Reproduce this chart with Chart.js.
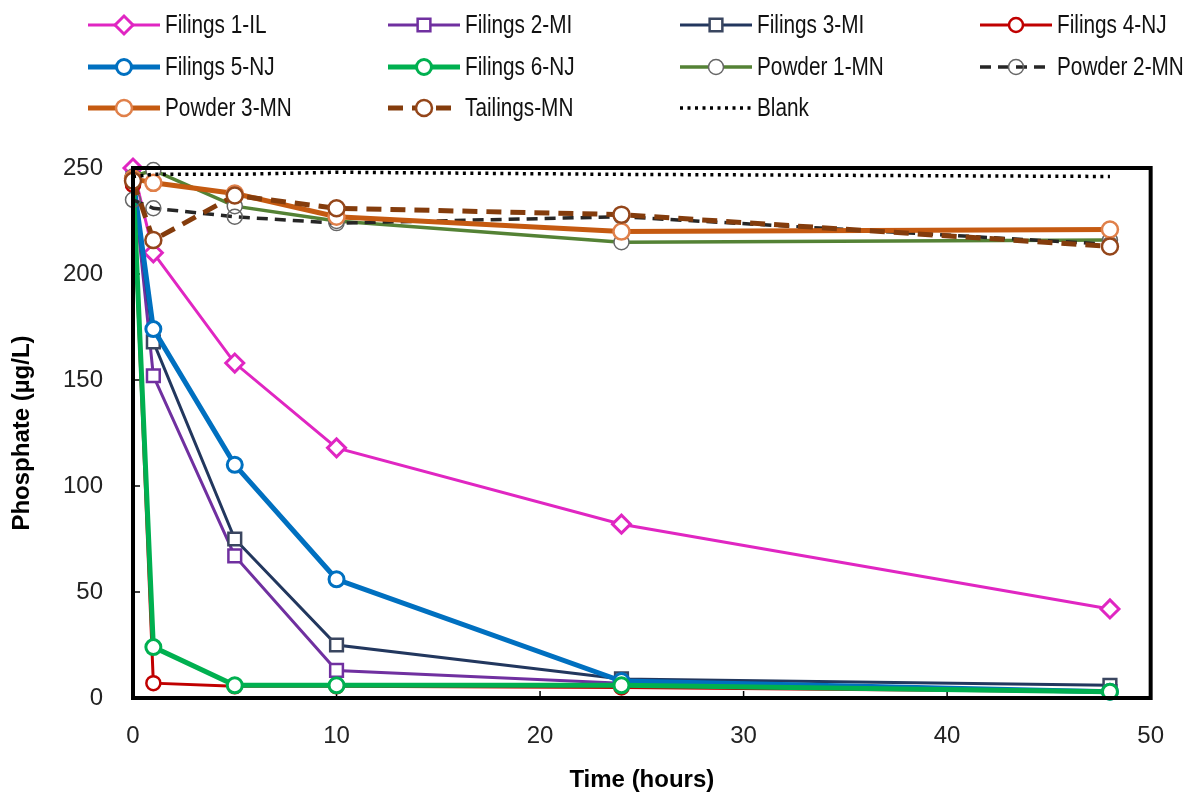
<!DOCTYPE html>
<html>
<head>
<meta charset="utf-8">
<script src="https://cdn.jsdelivr.net/npm/chart.js@4.4.1/dist/chart.umd.min.js"></script>
<style>
html,body{margin:0;padding:0;background:#fff;}
#wrap{width:1188px;height:797px;position:relative;}
</style>
</head>
<body>
<div id="wrap"><canvas id="c" width="1188" height="797"></canvas></div>
<script>
// ---- data ----
const times = [0, 1, 5, 10, 24, 48];
const filings1IL = [250, 210, 158, 118, 82, 42];
const filings2MI = [245, 152, 67, 13, 7, 3];
const filings3MI = [244, 168, 75, 25, 9, 6];
const filings4NJ = [242, 7, 5.5, 5.5, 5, 3];
const filings5NJ = [245, 174, 110, 56, 8, 3];
const filings6NJ = [245, 24, 6, 6, 6, 3];
const powder1MN = [246, 249, 232, 225, 215, 216];
const powder2MN = [235, 231, 227, 224, 227, 214];
const powder3MN = [245, 243, 238, 227, 220, 221];
const tailingsMN = [244, 216, 237, 231, 228, 213];
const blank = [246, 247, 247, 248, 247, 246];
const seriesNames = ['Filings 1-IL','Filings 2-MI','Filings 3-MI','Filings 4-NJ','Filings 5-NJ','Filings 6-NJ','Powder 1-MN','Powder 2-MN','Powder 3-MN','Tailings-MN','Blank'];
const xTicks = [0, 10, 20, 30, 40, 50];
const yTicks = [0, 50, 100, 150, 200, 250];

const FONT = '"Liberation Sans", Arial, sans-serif';
const toXY = arr => arr.map((v, i) => ({x: times[i], y: v}));

const styles = [
  {c:'#E026C2', w:3,   ps:'rectRot', r:9,  pc:'#E026C2', pw:3},
  {c:'#7030A0', w:3,   ps:'rect',    r:9,  pc:'#7030A0', pw:2.5},
  {c:'#22375E', w:3,   ps:'rect',    r:9,  pc:'#3A4660', pw:2.5},
  {c:'#C00000', w:3,   ps:'circle',  r:7,  pc:'#C00000', pw:2.5},
  {c:'#0070C0', w:5,   ps:'circle',  r:7.5,pc:'#0070C0', pw:3},
  {c:'#00B050', w:5,   ps:'circle',  r:7.5,pc:'#00B050', pw:3},
  {c:'#548235', w:3.5, ps:'circle',  r:7.5,pc:'#666666', pw:1.5},
  {c:'#262626', w:3.5, ps:'circle',  r:7.5,pc:'#666666', pw:1.5, dash:[11,7], fill:'rgba(0,0,0,0)'},
  {c:'#C55A11', w:5,   ps:'circle',  r:8,  pc:'#E0804A', pw:2.5},
  {c:'#843C0C', w:5,   ps:'circle',  r:8,  pc:'#94461A', pw:2.5, dash:[15,9]},
  {c:'#000000', w:3.5, ps:'circle',  r:0,  pc:'#000', pw:0, dash:[3,4.5]}
];
const values = [filings1IL, filings2MI, filings3MI, filings4NJ, filings5NJ, filings6NJ, powder1MN, powder2MN, powder3MN, tailingsMN, blank];

const datasets = values.map((v, i) => {
  const s = styles[i];
  return {
    label: seriesNames[i],
    data: toXY(v),
    borderColor: s.c,
    borderWidth: s.w,
    borderDash: s.dash || [],
    borderCapStyle: 'butt',
    pointStyle: s.ps,
    pointRadius: s.r,
    pointBorderColor: s.pc,
    pointBorderWidth: s.pw,
    pointBackgroundColor: s.fill || '#ffffff',
    pointHoverRadius: s.r,
    tension: 0,
    fill: false,
    clip: false,
    order: values.length - i
  };
});

// legend, frame, inward ticks
const legendCols = [88, 388, 680, 980];
const legendRows = [25, 67, 108];
const customPlugin = {
  id: 'custom',
  beforeDatasetsDraw(chart) {
    const {ctx, chartArea: a} = chart;
    ctx.save();
    ctx.strokeStyle = '#000';
    ctx.lineWidth = 1.5;
    const xs = chart.scales.x, ys = chart.scales.y;
    xTicks.forEach(t => {
      const px = xs.getPixelForValue(t);
      ctx.beginPath(); ctx.moveTo(px, a.bottom); ctx.lineTo(px, a.bottom - 7); ctx.stroke();
    });
    yTicks.forEach(t => {
      const py = ys.getPixelForValue(t);
      ctx.beginPath(); ctx.moveTo(a.left, py); ctx.lineTo(a.left + 7, py); ctx.stroke();
    });
    ctx.restore();
  },
  afterDraw(chart) {
    const {ctx, chartArea: a} = chart;
    ctx.save();
    ctx.strokeStyle = '#000';
    ctx.lineWidth = 4;
    ctx.strokeRect(a.left, a.top, a.right - a.left, a.bottom - a.top);
    // legend
    chart.data.datasets.forEach((ds, i) => {
      const col = i % 4, row = Math.floor(i / 4);
      const x0 = legendCols[col], y = legendRows[row];
      const len = 72;
      ctx.save();
      ctx.strokeStyle = ds.borderColor;
      ctx.lineWidth = ds.borderWidth;
      ctx.setLineDash(ds.borderDash);
      ctx.lineCap = 'butt';
      ctx.beginPath(); ctx.moveTo(x0, y); ctx.lineTo(x0 + len, y); ctx.stroke();
      ctx.setLineDash([]);
      if (ds.pointRadius > 0) {
        ctx.fillStyle = ds.pointBackgroundColor;
        ctx.strokeStyle = ds.pointBorderColor;
        ctx.lineWidth = ds.pointBorderWidth;
        Chart.helpers.drawPoint(ctx, {pointStyle: ds.pointStyle, radius: ds.pointRadius, borderWidth: ds.pointBorderWidth, rotation: 0}, x0 + len / 2, y);
      }
      ctx.fillStyle = '#111';
      ctx.font = '25px ' + FONT;
      ctx.textBaseline = 'middle';
      ctx.textAlign = 'left';
      ctx.translate(x0 + len + 5, y + 1);
      ctx.scale(0.83, 1);
      ctx.fillText(ds.label, 0, 0);
      ctx.restore();
    });
    ctx.restore();
  }
};

new Chart(document.getElementById('c'), {
  type: 'line',
  data: {datasets},
  options: {
    responsive: false,
    animation: false,
    events: [],
    layout: {padding: {top: 168, right: 35, bottom: 0, left: 0}},
    plugins: {legend: {display: false}, tooltip: {enabled: false}},
    scales: {
      x: {
        type: 'linear', min: 0, max: 50,
        afterBuildTicks: s => { s.ticks = xTicks.map(v => ({value: v})); },
        afterFit: s => { s.height = 99; },
        grid: {display: false, drawTicks: false},
        border: {display: false},
        ticks: {padding: 24, color: '#222', font: {family: FONT, size: 24}},
        title: {display: true, text: 'Time (hours)', color: '#000', font: {family: FONT, size: 24, weight: 'bold'}, padding: {top: 0, bottom: 2}}
      },
      y: {
        type: 'linear', min: 0, max: 250,
        afterBuildTicks: s => { s.ticks = yTicks.map(v => ({value: v})); },
        afterFit: s => { s.width = 133; },
        grid: {display: false, drawTicks: false},
        border: {display: false},
        ticks: {padding: 30, color: '#222', font: {family: FONT, size: 24}},
        title: {display: true, text: 'Phosphate (µg/L)', color: '#000', font: {family: FONT, size: 24, weight: 'bold'}, padding: {top: 8, bottom: 0}}
      }
    }
  },
  plugins: [customPlugin]
});
</script>
</body>
</html>
